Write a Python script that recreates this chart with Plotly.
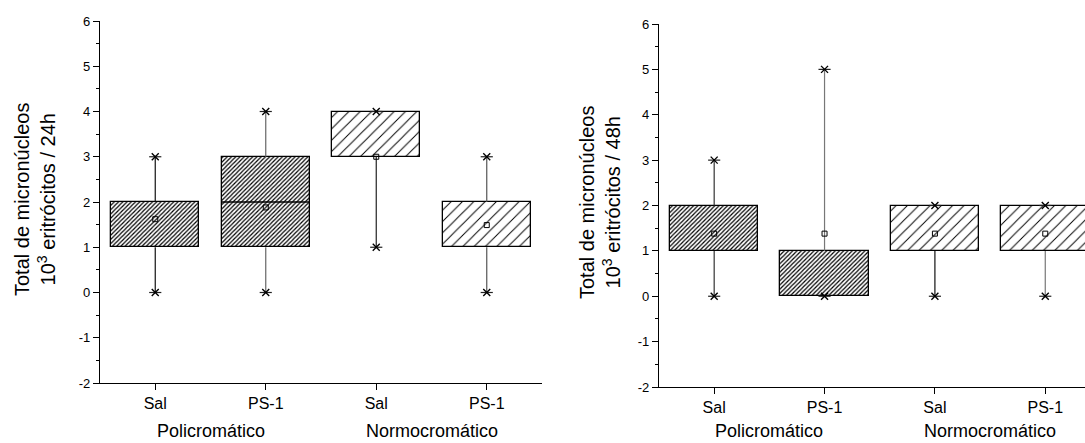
import plotly.graph_objects as go

# ---------------- data ----------------
positions = [1, 2, 3, 4]
tick_labels = ["Sal", "PS-1", "Sal", "PS-1"]
group_labels = ["Policromático", "Normocromático"]
group_centers = [1.5, 3.5]
y_tickvals = [-2, -1, 0, 1, 2, 3, 4, 5, 6]
y_ticktext = ["-2", "-1", "0", "1", "2", "3", "4", "5", "6"]

# 24 h
min_24 = [0, 0, 1, 0]
q1_24 = [1, 1, 3, 1]
med_24 = [2, 2, 3, 1]
q3_24 = [2, 3, 4, 2]
max_24 = [3, 4, 4, 3]
mean_24 = [1.62, 1.88, 3.0, 1.49]

# 48 h
min_48 = [0, 0, 0, 0]
q1_48 = [1, 0, 1, 1]
med_48 = [1, 0, 1, 1]
q3_48 = [2, 1, 2, 2]
max_48 = [3, 5, 2, 2]
mean_48 = [1.38, 1.38, 1.38, 1.38]

title_24 = "Total de micronúcleos<br>10<sup>3</sup> eritrócitos / 24h"
title_48 = "Total de micronúcleos<br>10<sup>3</sup> eritrócitos / 48h"

# ---------------- styles ----------------
FONT = "Liberation Sans, Arial, sans-serif"
W, H = 1085, 443
BOX_W = 0.8
CAP_W = 0.055
dense = dict(shape="/", size=3, solidity=0.4, fgcolor="black", bgcolor="white", fillmode="replace")
sparse = dict(shape="/", size=8, solidity=0.12, fgcolor="black", bgcolor="white", fillmode="replace")
whisk_24 = ["#111111", "#666666", "#222222", "#555555"]
whisk_48 = ["#333333", "#777777", "#111111", "#777777"]

fig = go.Figure()


def add_panel(mins, q1s, meds, q3s, maxs, means, whisk, xa, ya):
    # whiskers
    for i, x in enumerate(positions):
        fig.add_trace(go.Scatter(
            x=[x, x, None, x, x], y=[q3s[i], maxs[i], None, q1s[i], mins[i]],
            mode="lines", line=dict(color=whisk[i], width=1.2),
            xaxis=xa, yaxis=ya, showlegend=False, hoverinfo="skip"))
    # boxes (hatched)
    for grp, pat in ((0, dense), (1, sparse)):
        idx = [0, 1] if grp == 0 else [2, 3]
        fig.add_trace(go.Bar(
            x=[positions[i] for i in idx],
            base=[q1s[i] for i in idx],
            y=[q3s[i] - q1s[i] for i in idx],
            width=BOX_W,
            marker=dict(color="white", line=dict(color="black", width=1.3), pattern=pat),
            xaxis=xa, yaxis=ya, showlegend=False, hoverinfo="skip"))
    # medians (only where they do not sit on a box edge)
    mx, my = [], []
    for i, x in enumerate(positions):
        if q1s[i] < meds[i] < q3s[i]:
            mx += [x - BOX_W / 2, x + BOX_W / 2, None]
            my += [meds[i], meds[i], None]
    if mx:
        fig.add_trace(go.Scatter(x=mx, y=my, mode="lines", line=dict(color="black", width=1.3),
                                 xaxis=xa, yaxis=ya, showlegend=False, hoverinfo="skip"))
    # caps at min / max
    cx, cy = [], []
    for i, x in enumerate(positions):
        for v in (mins[i], maxs[i]):
            cx += [x - CAP_W, x + CAP_W, None]
            cy += [v, v, None]
    fig.add_trace(go.Scatter(x=cx, y=cy, mode="lines", line=dict(color="#222222", width=1.2),
                             xaxis=xa, yaxis=ya, showlegend=False, hoverinfo="skip"))
    fig.add_trace(go.Scatter(
        x=positions + positions, y=mins + maxs, mode="markers",
        marker=dict(symbol="x-thin-open", size=7, color="black", line=dict(color="black", width=1.4)),
        xaxis=xa, yaxis=ya, showlegend=False, hoverinfo="skip"))
    # means
    fig.add_trace(go.Scatter(
        x=positions, y=means, mode="markers",
        marker=dict(symbol="square-open", size=5, color="black", line=dict(color="black", width=1)),
        xaxis=xa, yaxis=ya, showlegend=False, hoverinfo="skip"))


add_panel(min_24, q1_24, med_24, q3_24, max_24, mean_24, whisk_24, "x", "y")
add_panel(min_48, q1_48, med_48, q3_48, max_48, mean_48, whisk_48, "x2", "y2")

xaxis_common = dict(
    tickmode="array", tickvals=positions, ticktext=tick_labels,
    showline=True, linecolor="black", linewidth=1.3, mirror=False,
    ticks="outside", ticklen=6, tickwidth=1.2, tickcolor="black",
    showgrid=False, zeroline=False, automargin=False,
    tickfont=dict(family=FONT, size=16, color="black"),
)
yaxis_common = dict(
    range=[-2, 6], tickmode="array", tickvals=y_tickvals, ticktext=y_ticktext,
    showline=True, linecolor="black", linewidth=1.3,
    ticks="outside", ticklen=6, tickwidth=1.2, tickcolor="black",
    minor=dict(dtick=0.5, tick0=0, ticks="outside", ticklen=3, tickwidth=1, tickcolor="black", showgrid=False),
    showgrid=False, zeroline=False, automargin=False,
    tickfont=dict(family=FONT, size=13, color="black"),
)

fig.update_layout(
    width=W, height=H,
    margin=dict(l=0, r=0, t=0, b=0),
    paper_bgcolor="white", plot_bgcolor="white",
    barmode="overlay", bargap=0,
    xaxis=dict(domain=[100 / W, 542 / W], range=[0.5, 4.5], anchor="y", **xaxis_common),
    yaxis=dict(domain=[1 - 383 / H, 1 - 21 / H], anchor="x", **yaxis_common),
    xaxis2=dict(domain=[659 / W, 1.0], range=[0.5, 4.36], anchor="y2", **xaxis_common),
    yaxis2=dict(domain=[1 - 387 / H, 1 - 24 / H], anchor="x2", **yaxis_common),
)

annots = []
for xa, title, tx, ty in (("x", title_24, 35 / W, 1 - 200 / H), ("x2", title_48, 600 / W, 1 - 203 / H)):
    annots.append(dict(text=title, xref="paper", yref="paper", x=tx, y=ty,
                       xanchor="center", yanchor="middle", textangle=-90, showarrow=False,
                       font=dict(family=FONT, size=20, color="black")))
    for gl, gc in zip(group_labels, group_centers):
        annots.append(dict(text=gl, xref=xa, yref="paper", x=gc, y=0,
                           xanchor="center", yanchor="bottom", showarrow=False,
                           font=dict(family=FONT, size=18, color="black")))
fig.update_layout(annotations=annots)

fig.write_html("out.html")
